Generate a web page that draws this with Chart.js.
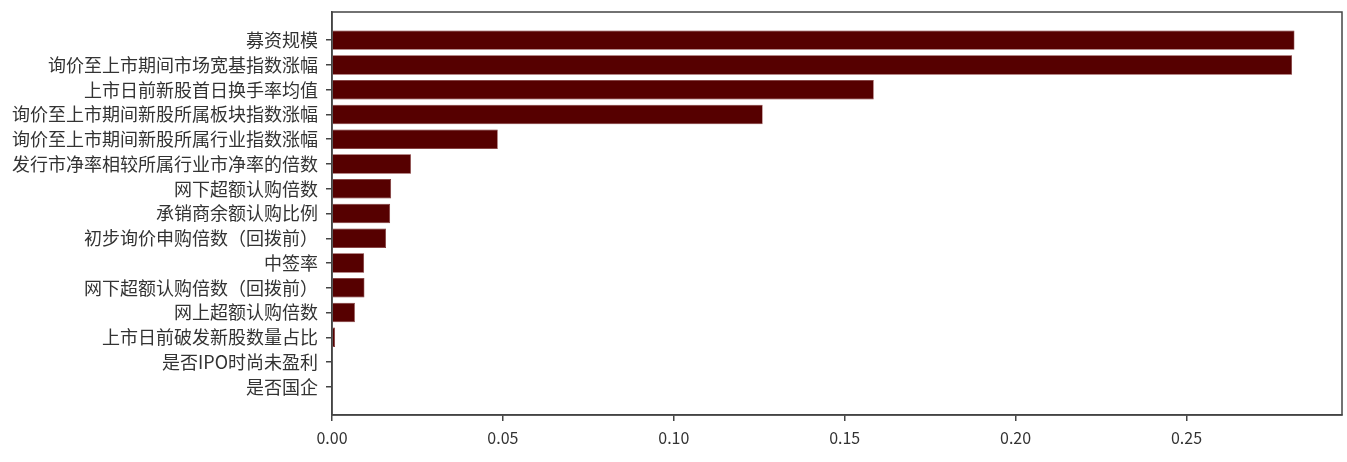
<!DOCTYPE html>
<html>
<head>
<meta charset="utf-8">
<script src="https://cdn.jsdelivr.net/npm/chart.js@4"></script>
<style>
  html, body { margin: 0; padding: 0; background: #fff; }
  #wrap { width: 1347px; height: 462px; }
</style>
</head>
<body>
<div id="wrap"><canvas id="importanceChart"></canvas></div>
<script>
// features, top to bottom
var categories = [
  '募资规模',
  '询价至上市期间市场宽基指数涨幅',
  '上市日前新股首日换手率均值',
  '询价至上市期间新股所属板块指数涨幅',
  '询价至上市期间新股所属行业指数涨幅',
  '发行市净率相较所属行业市净率的倍数',
  '网下超额认购倍数',
  '承销商余额认购比例',
  '初步询价申购倍数（回拨前）',
  '中签率',
  '网下超额认购倍数（回拨前）',
  '网上超额认购倍数',
  '上市日前破发新股数量占比',
  '是否IPO时尚未盈利',
  '是否国企'
];
var importance = [0.2816, 0.2809, 0.1585, 0.1260, 0.0485, 0.0231, 0.0173, 0.0170, 0.0158, 0.0094, 0.0095, 0.0067, 0.0009, 0, 0];
var xTicks = [0, 0.05, 0.10, 0.15, 0.20, 0.25];

var axisColor = '#444';
var textColor = '#333';

// matplotlib style box around the plot
var frame = {
  id: 'frame',
  afterDraw: function(chart) {
    var a = chart.chartArea, c = chart.ctx;
    c.save();
    c.strokeStyle = axisColor;
    c.lineWidth = 1.5;
    c.strokeRect(a.left, a.top, a.right - a.left, a.bottom - a.top);
    c.restore();
  }
};

var ctx = document.getElementById('importanceChart').getContext('2d');
new Chart(ctx, {
  type: 'bar',
  data: {
    datasets: [{
      data: importance.map(function(v, i) { return { x: v, y: i }; }),
      backgroundColor: '#560000',
      borderColor: '#7a2a2a',
      borderWidth: 0.6,
      barPercentage: 0.78,
      categoryPercentage: 1.0
    }]
  },
  options: {
    indexAxis: 'y',
    responsive: true,
    maintainAspectRatio: false,
    animation: false,
    layout: { padding: { top: 12, right: 5, left: 0, bottom: 0 } },
    scales: {
      x: {
        type: 'linear',
        min: 0,
        max: 0.2955,
        afterBuildTicks: function(axis) {
          axis.ticks = xTicks.map(function(v) { return { value: v }; });
        },
        afterFit: function(axis) { axis.height = 47; },
        grid: { drawOnChartArea: false, drawTicks: true, tickLength: 6, color: axisColor, lineWidth: 1.5 },
        border: { color: axisColor, width: 1.5 },
        ticks: {
          padding: 7,
          color: textColor,
          font: { family: '"Noto Sans CJK SC", "DejaVu Sans", sans-serif', size: 16 },
          callback: function(v) { return v.toFixed(2); }
        }
      },
      y: {
        type: 'linear',
        reverse: true,
        offset: false,
        min: -1.14,
        max: 15.14,
        afterBuildTicks: function(axis) {
          axis.ticks = categories.map(function(c, i) { return { value: i }; });
        },
        afterFit: function(axis) {
          axis.width = 332;
          axis.paddingTop = 0;
          axis.paddingBottom = 0;
        },
        grid: { offset: false, drawOnChartArea: false, drawTicks: true, tickLength: 6, color: axisColor, lineWidth: 1.5 },
        border: { color: axisColor, width: 1.5 },
        ticks: {
          padding: 8,
          color: textColor,
          autoSkip: false,
          font: { family: '"Noto Sans CJK SC", sans-serif', size: 18 },
          callback: function(v) { return categories[v]; }
        }
      }
    },
    plugins: {
      legend: { display: false },
      tooltip: { enabled: false }
    }
  },
  plugins: [frame]
});
</script>
</body>
</html>
